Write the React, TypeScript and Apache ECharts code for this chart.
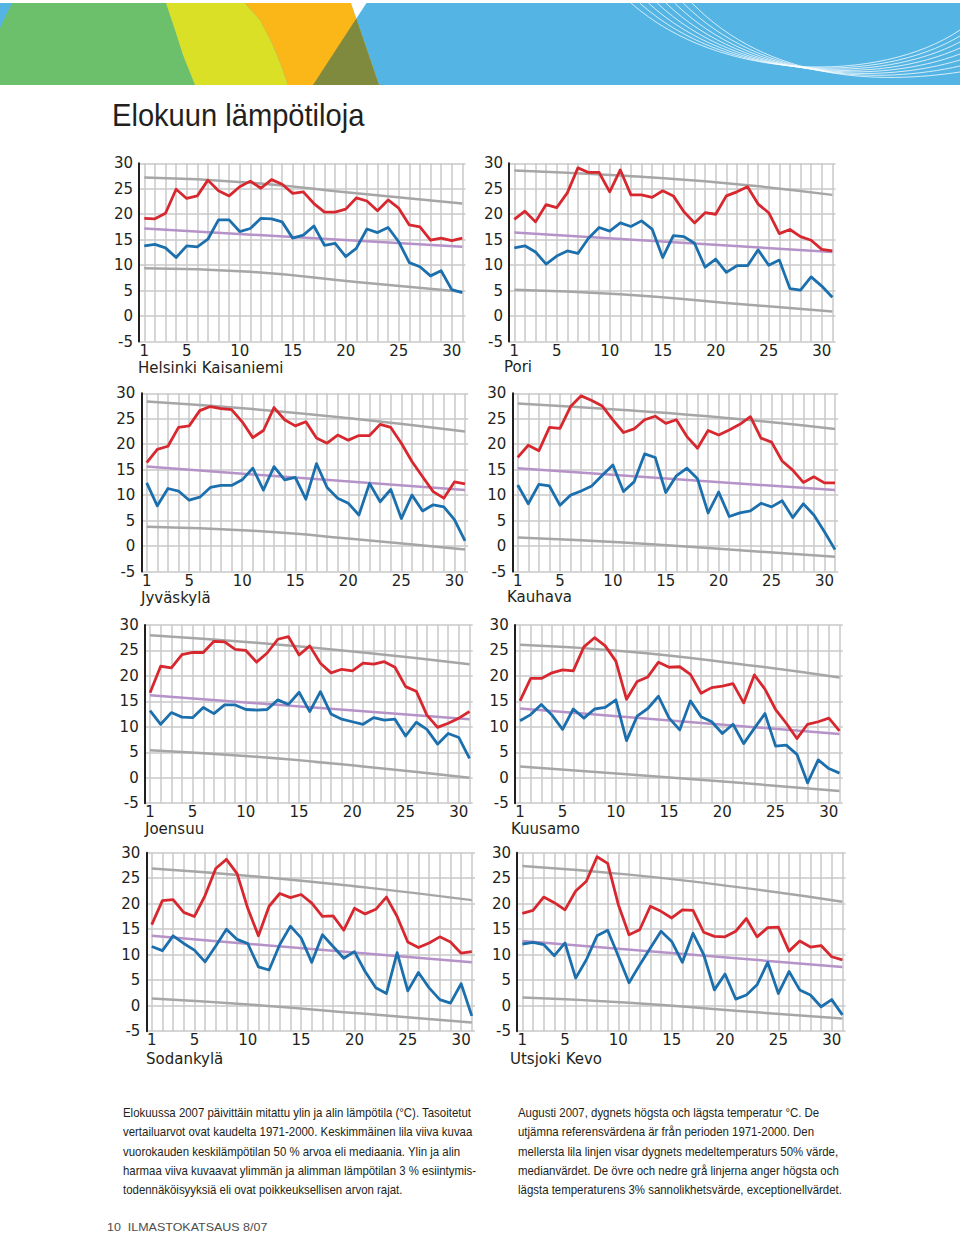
import React, { useEffect, useRef } from "react";
import * as echarts from "echarts";

// ---------- DATA ----------
const DAYS = [1, 2, 3, 4, 5, 6, 7, 8, 9, 10, 11, 12, 13, 14, 15, 16, 17, 18, 19, 20, 21, 22, 23, 24, 25, 26, 27, 28, 29, 30, 31];
const X_TICK_LABELS = [1, 5, 10, 15, 20, 25, 30];
const REF_DAYS = [1, 11, 21, 31];
const MEDIAN_DAYS = [1, 31];

const helsinkiHigh = [19.2, 19.1, 20.2, 24.9, 23.1, 23.6, 26.7, 24.6, 23.6, 25.4, 26.5, 25.1, 26.8, 25.9, 24.1, 24.4, 22.1, 20.4, 20.4, 21.0, 23.2, 22.6, 20.7, 22.8, 21.2, 17.9, 17.5, 14.9, 15.3, 14.8, 15.3];
const helsinkiLow = [13.8, 14.1, 13.4, 11.5, 13.8, 13.6, 15.1, 18.9, 18.9, 16.6, 17.2, 19.2, 19.1, 18.5, 15.3, 15.9, 17.7, 13.9, 14.3, 11.7, 13.3, 17.1, 16.4, 17.4, 14.6, 10.5, 9.7, 7.9, 8.9, 5.2, 4.6];
const helsinkiMedian = [17.2, 13.6];
const helsinkiUpper = [27.2, 26.2, 24.1, 22.1];
const helsinkiLower = [9.4, 8.7, 6.7, 4.8];

const poriHigh = [19.0, 20.6, 18.5, 21.9, 21.3, 24.2, 29.1, 28.2, 28.2, 24.4, 28.7, 23.8, 23.8, 23.3, 24.6, 23.6, 20.5, 18.3, 20.3, 20.0, 23.6, 24.4, 25.4, 22.0, 20.3, 16.2, 17.0, 15.6, 14.9, 13.1, 12.8];
const poriLow = [13.4, 13.8, 12.6, 10.2, 11.8, 12.8, 12.3, 15.3, 17.4, 16.7, 18.3, 17.6, 18.7, 17.1, 11.5, 15.8, 15.6, 14.3, 9.6, 11.2, 8.6, 9.9, 9.9, 13.0, 10.0, 11.0, 5.4, 5.1, 7.7, 5.9, 3.7];
const poriMedian = [16.4, 12.6];
const poriUpper = [28.6, 27.6, 26.1, 23.8];
const poriLower = [5.2, 4.3, 2.6, 0.9];

const jyvaskylaHigh = [16.4, 19.0, 19.6, 23.3, 23.6, 26.6, 27.4, 27.0, 26.8, 24.4, 21.3, 22.7, 27.2, 24.8, 23.6, 24.4, 21.2, 20.2, 21.8, 20.8, 21.7, 21.7, 23.9, 23.3, 20.2, 16.6, 13.6, 10.7, 9.4, 12.6, 12.2];
const jyvaskylaLow = [12.4, 7.9, 11.3, 10.8, 9.0, 9.6, 11.5, 11.9, 11.9, 13.0, 15.3, 11.0, 15.6, 13.0, 13.5, 9.2, 16.2, 11.5, 9.4, 8.4, 6.1, 12.3, 8.7, 11.1, 5.4, 10.0, 6.9, 8.1, 7.7, 5.2, 1.0];
const jyvaskylaMedian = [15.6, 11.0];
const jyvaskylaUpper = [28.4, 26.9, 24.9, 22.5];
const jyvaskylaLower = [3.8, 3.0, 1.3, -0.7];

const kauhavaHigh = [17.4, 19.8, 18.7, 23.3, 23.1, 27.4, 29.5, 28.6, 27.5, 24.8, 22.3, 23.0, 24.8, 25.5, 24.1, 24.8, 21.5, 19.2, 22.7, 21.8, 22.8, 23.9, 25.4, 21.2, 20.4, 16.7, 14.9, 12.5, 13.6, 12.4, 12.4];
const kauhavaLow = [12.0, 8.3, 12.1, 11.8, 8.0, 10.0, 10.8, 11.8, 13.9, 15.9, 10.7, 12.6, 18.1, 17.4, 10.5, 13.8, 15.3, 13.2, 6.5, 10.6, 5.8, 6.5, 6.9, 8.4, 7.7, 8.9, 5.6, 8.3, 6.1, 2.8, -0.7];
const kauhavaMedian = [15.3, 11.0];
const kauhavaUpper = [28.0, 26.7, 25.1, 23.0];
const kauhavaLower = [1.7, 0.7, -0.7, -2.1];

const joensuuHigh = [16.7, 21.9, 21.6, 24.2, 24.6, 24.6, 26.8, 26.7, 25.2, 25.0, 22.7, 24.5, 27.2, 27.7, 24.1, 25.9, 22.5, 20.6, 21.3, 21.0, 22.5, 22.3, 22.8, 21.7, 17.9, 17.0, 12.3, 9.9, 10.7, 11.7, 13.0];
const joensuuLow = [13.2, 10.5, 12.8, 11.9, 11.8, 13.8, 12.6, 14.3, 14.3, 13.4, 13.3, 13.4, 15.3, 14.4, 16.8, 13.0, 16.9, 12.5, 11.5, 11.0, 10.5, 11.8, 11.3, 11.5, 8.2, 10.9, 9.5, 6.6, 8.7, 7.9, 3.8];
const joensuuMedian = [16.2, 11.5];
const joensuuUpper = [28.0, 26.5, 24.6, 22.3];
const joensuuLower = [5.4, 4.1, 2.2, 0.0];

const kuusamoHigh = [15.1, 19.5, 19.5, 20.6, 21.2, 21.0, 25.7, 27.5, 25.9, 22.9, 15.4, 18.9, 19.8, 22.7, 21.7, 21.8, 20.3, 16.6, 17.7, 18.0, 18.5, 14.7, 20.2, 17.4, 13.4, 10.7, 7.7, 10.5, 11.0, 11.7, 9.2];
const kuusamoLow = [11.2, 12.4, 14.4, 12.3, 9.5, 13.5, 11.7, 13.5, 13.8, 15.3, 7.3, 12.1, 13.6, 16.0, 11.7, 9.4, 15.1, 12.0, 11.0, 8.7, 10.5, 6.7, 9.7, 12.6, 6.2, 6.4, 4.6, -1.0, 3.5, 1.8, 0.9];
const kuusamoMedian = [13.6, 8.6];
const kuusamoUpper = [26.1, 24.8, 22.5, 19.7];
const kuusamoLower = [2.2, 0.7, -0.9, -2.6];

const sodankylaHigh = [15.9, 20.6, 20.8, 18.3, 17.5, 21.6, 26.9, 28.7, 25.9, 19.1, 13.7, 19.5, 22.0, 21.2, 21.8, 20.1, 17.5, 17.6, 14.8, 19.1, 18.0, 18.9, 21.3, 17.5, 12.5, 11.4, 12.3, 13.5, 12.5, 10.3, 10.6];
const sodankylaLow = [11.6, 10.8, 13.7, 12.2, 10.9, 8.6, 11.7, 15.0, 13.0, 12.2, 7.6, 7.0, 12.0, 15.6, 13.3, 8.5, 13.9, 11.6, 9.3, 10.6, 6.7, 3.5, 2.4, 10.4, 2.9, 6.5, 3.5, 1.2, 0.5, 4.3, -2.0];
const sodankylaMedian = [13.7, 8.5];
const sodankylaUpper = [26.9, 25.3, 23.2, 20.7];
const sodankylaLower = [1.4, 0.1, -1.6, -3.3];

const utsjokiHigh = [18.1, 18.7, 21.3, 20.2, 18.8, 22.5, 24.4, 29.2, 27.9, 19.8, 13.9, 14.9, 19.5, 18.5, 17.2, 18.8, 18.7, 14.4, 13.6, 13.5, 14.6, 17.1, 13.5, 15.3, 15.4, 10.7, 12.7, 11.5, 11.8, 9.6, 9.0];
const utsjokiLow = [12.1, 12.4, 12.0, 9.8, 12.3, 5.4, 9.0, 13.7, 14.8, 9.7, 4.5, 8.0, 11.3, 14.6, 12.6, 8.5, 14.2, 10.0, 3.1, 6.2, 1.3, 2.1, 4.1, 8.5, 2.4, 6.7, 3.1, 2.1, -0.2, 1.2, -1.8];
const utsjokiMedian = [12.7, 7.6];
const utsjokiUpper = [27.4, 25.7, 23.3, 20.4];
const utsjokiLower = [1.6, 0.6, -1.0, -2.5];

const TITLE = "Elokuun lämpötiloja";
const NOTE_FI = [
  "Elokuussa 2007 päivittäin mitattu ylin ja alin lämpötila (°C). Tasoitetut",
  "vertailuarvot ovat kaudelta 1971-2000. Keskimmäinen lila viiva kuvaa",
  "vuorokauden keskilämpötilan 50 % arvoa eli mediaania. Ylin ja alin",
  "harmaa viiva kuvaavat ylimmän ja alimman lämpötilan 3 % esiintymis-",
  "todennäköisyyksiä eli ovat poikkeuksellisen arvon rajat.",
];
const NOTE_SV = [
  "Augusti 2007, dygnets högsta och lägsta temperatur °C. De",
  "utjämna referensvärdena är från perioden 1971-2000. Den",
  "mellersta lila linjen visar dygnets medeltemperaturs 50% värde,",
  "medianvärdet. De övre och nedre grå linjerna anger högsta och",
  "lägsta temperaturens 3% sannolikhetsvärde, exceptionellvärdet.",
];
const FOOTER = "10  ILMASTOKATSAUS 8/07";

// ---------- LAYOUT ----------
const PANELS = [
  { name: "Helsinki Kaisaniemi", high: helsinkiHigh, low: helsinkiLow, median: helsinkiMedian, upper: helsinkiUpper, lower: helsinkiLower, left: 139, top: 163.3, width: 326.5, height: 178.3, nameX: 138, nameY: 367.5 },
  { name: "Pori", high: poriHigh, low: poriLow, median: poriMedian, upper: poriUpper, lower: poriLower, left: 509, top: 163.3, width: 326.5, height: 178.3, nameX: 504, nameY: 367 },
  { name: "Jyväskylä", high: jyvaskylaHigh, low: jyvaskylaLow, median: jyvaskylaMedian, upper: jyvaskylaUpper, lower: jyvaskylaLower, left: 141.4, top: 393.3, width: 326.8, height: 178.2, nameX: 141, nameY: 598 },
  { name: "Kauhava", high: kauhavaHigh, low: kauhavaLow, median: kauhavaMedian, upper: kauhavaUpper, lower: kauhavaLower, left: 512.4, top: 393.3, width: 325.8, height: 178.2, nameX: 507, nameY: 597 },
  { name: "Joensuu", high: joensuuHigh, low: joensuuLow, median: joensuuMedian, upper: joensuuUpper, lower: joensuuLower, left: 144.7, top: 625, width: 328, height: 178.2, nameX: 145, nameY: 829 },
  { name: "Kuusamo", high: kuusamoHigh, low: kuusamoLow, median: kuusamoMedian, upper: kuusamoUpper, lower: kuusamoLower, left: 514.7, top: 625, width: 328, height: 178.2, nameX: 511, nameY: 828.5 },
  { name: "Sodankylä", high: sodankylaHigh, low: sodankylaLow, median: sodankylaMedian, upper: sodankylaUpper, lower: sodankylaLower, left: 146.4, top: 852.7, width: 328.6, height: 178.5, nameX: 146, nameY: 1059 },
  { name: "Utsjoki Kevo", high: utsjokiHigh, low: utsjokiLow, median: utsjokiMedian, upper: utsjokiUpper, lower: utsjokiLower, left: 517, top: 852.7, width: 328.6, height: 178.5, nameX: 510, nameY: 1059 },
];

const FONT = "DejaVu Sans";
const TEXT = "#231f20";
const GRIDC = "#c9c9c9";
const RED = "#d7282f";
const BLUE = "#1b6fad";
const PURPLE = "#b592c8";
const GREY = "#a6a6a6";

function buildOption() {
  const grid: any[] = [];
  const xAxis: any[] = [];
  const yAxis: any[] = [];
  const series: any[] = [];
  const graphic: any[] = [];

  PANELS.forEach((p, i) => {
    grid.push({ left: p.left, top: p.top, width: p.width, height: p.height, containLabel: false, outerBoundsMode: "none" });
    xAxis.push({
      type: "value",
      gridIndex: i,
      min: 0.5,
      max: 31.3,
      axisLine: { show: false },
      axisTick: { show: false, customValues: DAYS },
      axisLabel: { customValues: X_TICK_LABELS, fontSize: 15, lineHeight: 12, fontFamily: FONT, color: TEXT, margin: 3 },
      splitLine: { show: true, lineStyle: { color: GRIDC, width: 1.5 } },
    });
    yAxis.push({
      type: "value",
      gridIndex: i,
      min: -5,
      max: 30,
      interval: 5,
      axisLine: { show: true, onZero: false, lineStyle: { color: TEXT, width: 2 } },
      axisTick: { show: false },
      axisLabel: { fontSize: 15, lineHeight: 13, fontFamily: FONT, color: TEXT, margin: 6 },
      splitLine: { show: true, lineStyle: { color: GRIDC, width: 1.5 } },
    });
    const base = { type: "line", xAxisIndex: i, yAxisIndex: i, showSymbol: false, symbol: "none", silent: true };
    series.push({ ...base, z: 2, smooth: true, data: REF_DAYS.map((d, k) => [d, p.upper[k]]), lineStyle: { color: GREY, width: 2.5 } });
    series.push({ ...base, z: 2, smooth: true, data: REF_DAYS.map((d, k) => [d, p.lower[k]]), lineStyle: { color: GREY, width: 2.5 } });
    series.push({ ...base, z: 3, data: MEDIAN_DAYS.map((d, k) => [d, p.median[k]]), lineStyle: { color: PURPLE, width: 2.5 } });
    series.push({ ...base, z: 4, data: DAYS.map((d, k) => [d, p.high[k]]), lineStyle: { color: RED, width: 2.8, join: "round" } });
    series.push({ ...base, z: 5, data: DAYS.map((d, k) => [d, p.low[k]]), lineStyle: { color: BLUE, width: 2.8, join: "round" } });

    graphic.push({
      type: "text",
      x: p.nameX,
      y: p.nameY,
      style: { text: p.name, fontSize: 15, lineHeight: 12, fontFamily: FONT, fill: TEXT, verticalAlign: "middle", align: "left" },
    });
  });

  // banner
  graphic.push(
    { type: "rect", shape: { x: 0, y: 3, width: 960, height: 82 }, style: { fill: "#54b5e5" } },
    { type: "polygon", shape: { points: [[0, 28], [12, 3], [166, 3], [175, 30], [183, 55], [195, 85], [0, 85]] }, style: { fill: "#6cc06b" } },
    { type: "polygon", shape: { points: [[166, 3], [245, 3], [260, 20], [272, 43], [281, 65], [288, 85], [195, 85], [183, 55], [175, 30]] }, style: { fill: "#d9e026" } },
    { type: "polygon", shape: { points: [[245, 3], [351, 3], [379, 85], [288, 85], [281, 65], [272, 43], [260, 20]] }, style: { fill: "#fbb617" } },
    { type: "polygon", shape: { points: [[351, 3], [366.5, 3], [356.3, 18.6]] }, style: { fill: "#ffffff" } },
    { type: "polygon", shape: { points: [[356.3, 18.6], [379, 85], [313, 85]] }, style: { fill: "#7f8a3e" } },
  );
  for (let i = 0; i < 8; i++) {
    graphic.push({
      type: "bezierCurve",
      shape: { x1: 631 + i * 8.7, y1: 3, cpx1: 720 + i * 7, cpy1: 82, cpx2: 880, cpy2: 84, x2: 960, y2: 30 + i * 6 },
      style: { stroke: "rgba(255,255,255,0.75)", lineWidth: 1, fill: null },
    });
  }

  graphic.push({
    type: "text",
    x: 112,
    y: 114,
    scaleX: 0.91,
    style: { text: TITLE, fontSize: 32, fontFamily: "Liberation Sans", fill: TEXT, verticalAlign: "middle", align: "left" },
  });

  const lineYs = [1113, 1132.3, 1151.6, 1170.9, 1190.2];
  NOTE_FI.forEach((t, k) => {
    graphic.push({ type: "text", x: 123, y: lineYs[k], scaleX: 0.915, style: { text: t, fontSize: 12.5, lineHeight: 14, fontFamily: "Liberation Sans", fill: TEXT, verticalAlign: "middle", align: "left" } });
  });
  NOTE_SV.forEach((t, k) => {
    graphic.push({ type: "text", x: 518, y: lineYs[k], scaleX: 0.915, style: { text: t, fontSize: 12.5, lineHeight: 14, fontFamily: "Liberation Sans", fill: TEXT, verticalAlign: "middle", align: "left" } });
  });
  graphic.push({ type: "text", x: 107, y: 1227, scaleX: 1.25, style: { text: FOOTER, fontSize: 10, fontFamily: "Liberation Sans", fill: "#4d4d4d", verticalAlign: "middle", align: "left" } });

  return { animation: false, backgroundColor: "#ffffff", grid, xAxis, yAxis, series, graphic };
}

export default function App() {
  const ref = useRef<HTMLDivElement>(null);
  useEffect(() => {
    document.body.style.margin = "0";
    const chart = echarts.init(ref.current!, null, { renderer: "svg" });
    chart.setOption(buildOption() as any);
    return () => chart.dispose();
  }, []);
  return <div ref={ref} style={{ width: 960, height: 1236 }} />;
}
